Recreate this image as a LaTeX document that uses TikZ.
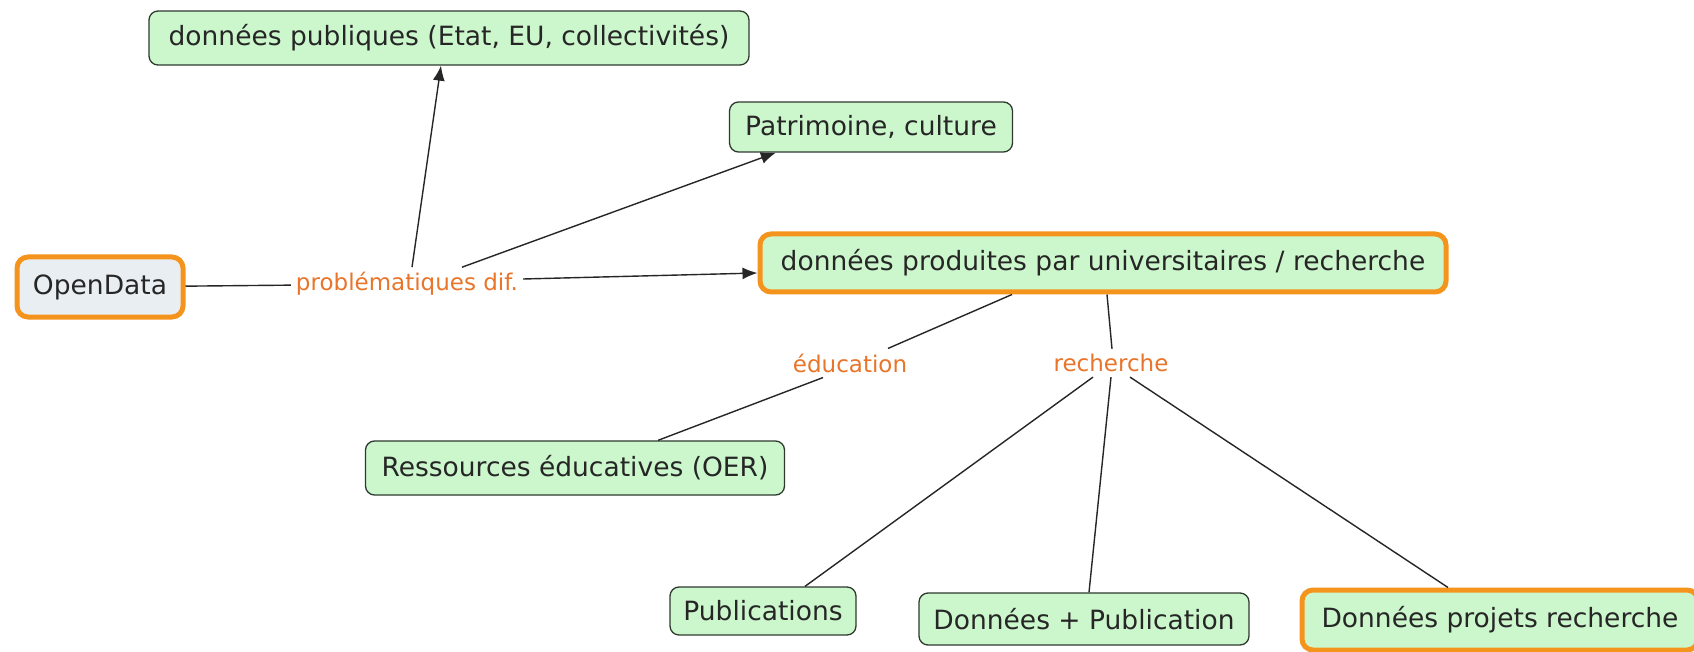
\documentclass[tikz,border=0pt]{standalone}
\usepackage{fontspec}
\setmainfont{DejaVu Sans}
\usetikzlibrary{arrows.meta}
\definecolor{boxgreen}{HTML}{CCF7CC}
\definecolor{boxgrey}{HTML}{E9EEF2}
\definecolor{bord}{HTML}{2F3A2F}
\definecolor{orangeb}{HTML}{F5941D}
\definecolor{labor}{HTML}{E8752A}
\tikzset{
  x=1pt,y=-1pt,
  concept/.style={draw=bord, line width=1.3pt, fill=boxgreen, rounded corners=9pt, inner sep=0pt, font=\fontsize{26.5}{30}\selectfont, text=black!85},
  hl/.style={draw=orangeb, line width=5pt, rounded corners=11pt},
  linklab/.style={text=labor, inner sep=5pt, font=\fontsize{23}{27}\selectfont},
  conn/.style={draw=black!85, line width=1.4pt},
  arr/.style={conn, -{Latex[length=15pt,width=12pt]}}
}
\begin{document}
\begin{tikzpicture}
\useasboundingbox (0,0) rectangle (1694,652);
\fill[white] (0,0) rectangle (1694,652);
\node[concept, hl, fill=boxgrey, minimum width=166pt, minimum height=60pt] (od) at (100,287) {OpenData};
\node[concept, minimum width=600pt, minimum height=54pt] (pub) at (449,38) {données publiques (Etat, EU, collectivités)};
\node[concept, minimum width=283pt, minimum height=50pt] (pat) at (871,127) {Patrimoine, culture};
\node[concept, hl, minimum width=686pt, minimum height=58pt] (prod) at (1103,263) {données produites par universitaires / recherche};
\node[concept, minimum width=419pt, minimum height=54pt] (res) at (575,468) {Ressources éducatives (OER)};
\node[concept, minimum width=186pt, minimum height=48pt] (pubs) at (763,611) {Publications};
\node[concept, minimum width=330pt, minimum height=52pt] (dpub) at (1084,619) {Données + Publication};
\node[concept, hl, minimum width=396pt, minimum height=60pt] (dproj) at (1500,620) {Données projets recherche};
\node[linklab] (prob) at (407,284) {problématiques dif.};
\node[linklab] (educ) at (850,363) {éducation};
\node[linklab] (rech) at (1111,363) {recherche};
\draw[conn] (od) -- (prob);
\draw[arr] ([xshift=5]prob.north) -- ([xshift=-8]pub.south);
\draw[arr] ([xshift=55]prob.north) -- ([xshift=47]pat.south west);
\draw[arr] ([yshift=5]prob.east) -- ([yshift=-10]prod.west);
\draw[conn] ([xshift=-91]prod.south) -- ([xshift=38]educ.north);
\draw[conn] ([xshift=-27]educ.south) -- ([xshift=83]res.north);
\draw[conn] ([xshift=4]prod.south) -- ([xshift=1]rech.north);
\draw[conn] ([xshift=-18]rech.south) -- ([xshift=42]pubs.north);
\draw[conn] (rech.south) -- ([xshift=5]dpub.north);
\draw[conn] ([xshift=19]rech.south) -- ([xshift=-52]dproj.north);
\end{tikzpicture}
\end{document}
